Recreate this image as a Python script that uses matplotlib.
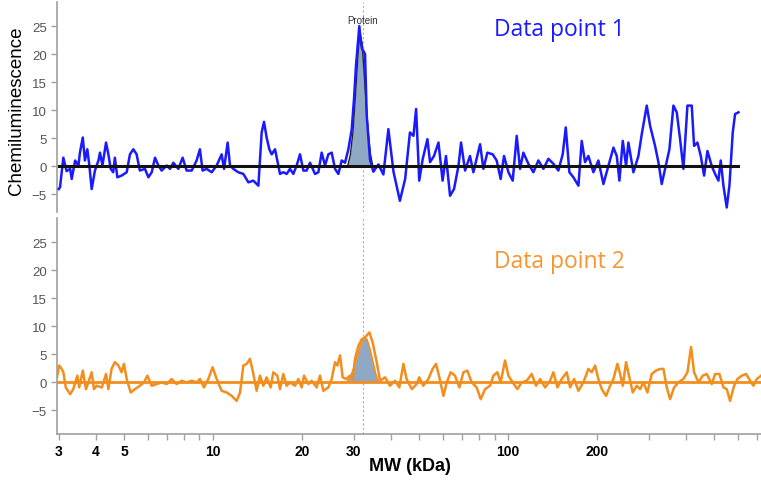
import matplotlib
matplotlib.use("Agg")
import matplotlib.pyplot as plt
from matplotlib.ticker import FixedLocator, FixedFormatter, NullFormatter

plt.rcParams["font.family"] = ["Liberation Sans", "DejaVu Sans"]

# ---- data (MW in kDa, chemiluminescence signal) ----
top_mw = [3.00, 3.03, 3.11, 3.19, 3.28, 3.32, 3.41, 3.50, 3.54, 3.62, 3.68, 3.75, 3.81, 3.88, 3.98,
          4.09, 4.14, 4.22, 4.34, 4.42, 4.50, 4.59, 4.65, 4.74, 4.90, 5.10, 5.23, 5.37, 5.51, 5.65,
          5.88, 6.04, 6.20, 6.36, 6.53, 6.70, 6.97, 7.15, 7.34, 7.63, 7.89, 8.14, 8.47, 8.80, 9.03,
          9.22, 9.52, 9.90, 10.29, 10.70, 10.90, 11.21, 11.42, 11.72, 12.18, 12.67, 13.18, 13.70,
          14.25, 14.43, 14.62, 14.89, 15.20, 15.52, 15.81, 16.23, 16.52, 16.87, 17.31, 17.77, 18.24,
          18.72, 19.21, 19.72, 20.24, 20.77, 21.32, 22.17, 22.76, 23.35, 23.97, 24.60, 25.25, 25.92,
          26.60, 27.30, 28.02, 28.76, 29.52, 30.06, 30.53, 31.00, 31.33, 31.70, 32.00, 32.76, 33.19,
          34.05, 34.95, 36.36, 37.8, 39.3, 40.9, 43.0, 44.8, 46.5, 47.8, 48.8, 50.0, 51.4, 53.3, 54.4,
          56.1, 58.1, 60.0, 61.6, 63.6, 65.6, 67.9, 69.3, 71.5, 74.3, 76.3, 80.4, 82.5, 85.1, 88.7,
          91.5, 94.4, 96.9, 100.3, 103.7, 107.0, 109.8, 112.7, 117.2, 121.9, 126.7, 131.8, 137.0,
          142.5, 148.1, 153.2, 156.9, 161.4, 166.5, 173.2, 177.7, 182.4, 187.2, 194.7, 202.4, 210.5,
          218.8, 227.6, 233.6, 238.5, 244.8, 251.2, 255.8, 266.0, 276.6, 283.9, 295.2, 303.0, 315.0,
          323.3, 331.8, 340.6, 352.3, 363.5, 373.1, 382.9, 393.0, 405.5, 419.4, 427.1, 438.4, 450.0,
          461.8, 474.0, 490.3, 503.2, 516.4, 525.9, 537.0, 551.1, 562.7, 577.5, 588.2, 603.9]
top_signal = [-4.1, -3.8, 1.5, -0.9, -0.5, -2.3, 1.0, 0.1, 2.4, 5.1, 1.0, 3.0, 0.1, -4.1, -0.8,
              1.0, 2.4, 0.1, 4.2, 2.1, -0.5, -1.1, 1.5, -2.0, -1.7, -1.1, 2.1, 3.0, 2.1, -0.8,
              -0.5, -2.0, -1.1, 1.5, 0.1, -0.8, 0.1, -0.5, 0.6, -0.5, 1.5, -0.8, -0.8, 1.0, 3.0,
              -0.8, -0.5, -1.1, 0.1, 2.1, -0.5, 4.2, 0.1, -0.5, -1.1, -1.4, -2.9, -2.6,
              -3.5, 1.0, 6.0, 7.9, 5.1, 3.0, 2.1, 3.0, 1.0, -1.4, -1.1, -1.4, -0.5,
              -1.4, 0.1, 2.1, -0.8, -0.8, 0.6, -1.4, -1.1, 2.4, 0.1, 2.1, 2.4, -0.5,
              -1.4, 1.0, 0.6, 3.0, 6.5, 12.0, 18.0, 22.0, 25.0, 22.0, 21.0, 20.0, 9.0,
              1.2, -1.0, 0.3, -1.5, 6.6, -1.0, -6.2, -2.3, 6.0, 5.4, 10.2, -2.6, 1.3, 4.8, 0.7,
              1.8, 4.2, -2.6, 1.8, -5.3, -4.1, 0.0, 4.2, -0.8, 1.8, -1.1, 3.9, -0.5, 2.4, 2.1,
              1.0, -2.3, 1.8, -1.1, -2.6, 5.4, -0.5, 2.4, 0.4, -1.1, 1.0, -0.5, 1.3,
              0.4, -0.8, 2.1, 6.9, -1.1, -2.0, -3.5, 4.5, 0.7, 1.8, -1.1, 1.0, -3.2,
              0.0, 3.3, 1.8, -2.6, 4.5, 0.0, 4.2, -1.1, 1.8, 5.7, 10.8, 7.2, 3.6,
              0.7, -3.2, -0.5, 3.0, 10.8, 9.6, 4.8, -0.5, 10.8, 10.8, 3.6, 4.2, 1.8,
              -1.7, 2.7, 0.0, -1.4, -2.6, 1.0, -3.5, -7.4, -3.5, 6.0, 9.3, 9.6]

bot_mw = [2.96, 3.01, 3.07, 3.11, 3.17, 3.28, 3.36, 3.47, 3.52, 3.62, 3.71, 3.78, 3.88, 3.95, 4.03,
          4.20, 4.34, 4.42, 4.53, 4.65, 4.78, 4.90, 4.99, 5.10, 5.26, 5.44, 5.65, 5.84, 5.99, 6.20,
          6.44, 6.70, 6.97, 7.24, 7.53, 7.83, 8.14, 8.47, 8.80, 9.03, 9.32, 9.64, 9.97, 10.29, 10.70,
          11.13, 11.57, 12.03, 12.35, 12.67, 13.01, 13.35, 13.63, 14.06, 14.43, 14.81, 15.20, 15.68,
          16.01, 16.52, 16.87, 17.31, 17.77, 18.24, 18.97, 19.46, 19.98, 20.35, 21.05, 21.60, 22.46,
          23.05, 23.66, 24.60, 25.25, 25.92, 26.40, 26.95, 27.51, 28.24, 29.13, 29.74, 30.29, 31.10,
          31.92, 32.76, 33.89, 34.77, 35.88, 36.82, 38.3, 39.8, 41.4, 42.8, 44.2, 45.3, 47.2, 49.0,
          50.0, 51.6, 53.7, 55.5, 57.0, 58.5, 60.4, 62.0, 63.9, 66.1, 68.4, 70.6, 72.8, 75.3, 78.3,
          80.8, 83.6, 86.9, 89.2, 92.0, 94.4, 97.7, 100.3, 103.7, 107.5, 111.3, 115.7, 120.3, 124.4,
          128.4, 133.5, 138.8, 142.5, 147.0, 152.0, 158.1, 162.3, 167.4, 173.2, 180.0, 187.2, 192.1,
          197.2, 202.4, 207.8, 214.9, 221.7, 227.6, 234.8, 239.8, 244.8, 251.2, 257.8, 264.6, 273.1,
          280.3, 287.7, 296.8, 306.9, 317.5, 327.6, 336.3, 345.1, 354.2, 365.4, 378.0, 393.0, 405.5,
          417.2, 427.1, 441.9, 457.0, 471.5, 490.3, 503.2, 520.4, 537.0, 551.1, 565.6, 583.6, 599.2,
          619.8, 641.1, 661.3, 678.7, 696.6, 720.3]
bot_signal = [0.9, 3.0, 2.4, 1.8, -0.9, -2.1, -1.2, 1.2, -0.9, 2.1, -1.2, 0.0, 1.8, -1.2, -0.6,
              -0.9, 1.5, -1.2, 2.4, 3.6, 3.0, 1.8, 3.3, 0.6, -1.8, -1.2, -0.6, 0.0, 1.2, -0.6,
              -0.3, 0.0, -0.3, 0.6, -0.3, 0.3, 0.0, 0.3, 0.0, 0.6, -0.9, 0.6, 2.7, 0.6, -1.5,
              -1.8, -2.4, -3.3, -1.8, 3.0, 3.3, 4.2, 2.1, -1.5, 1.2, -0.6, 0.9, -0.9,
              1.8, 1.2, -1.2, 1.5, -0.6, 0.0, -0.6, 0.6, -0.9, 1.2, -0.3, 0.3, -0.9,
              1.2, -1.5, -0.9, 0.6, 3.6, 3.0, 4.8, 0.9, 0.6, 1.2, 0.6, 4.2, 6.5,
              7.7, 8.0, 8.9, 7.1, 3.6, 0.3, 0.9, -0.6, 0.3, -0.9, 3.3, 0.6, -1.2, -0.3,
              0.9, -0.6, 0.6, 2.4, 3.3, 0.9, -2.4, 0.0, 1.8, 1.2, -0.9, 1.8, 2.1, 0.0, -0.9,
              -3.0, -1.2, -0.6, 1.2, 1.8, 0.0, 3.9, 1.2, 0.0, -1.2, 0.0, 0.3, 1.5, -0.6,
              0.6, -0.9, 0.3, 1.8, -0.9, 0.6, 1.8, -0.9, 0.6, -1.5, 0.0, 2.4, 1.8,
              3.0, 0.6, -1.2, -2.4, -0.6, 0.6, 3.3, 1.5, -0.6, 3.6, 0.9, -1.8, -0.6,
              -1.2, 0.0, -1.8, 1.5, 2.1, 2.4, 2.4, -0.9, -3.0, -0.9, 0.0, 0.6, 1.8,
              6.3, 1.8, 0.0, 1.2, 1.5, -0.3, 1.5, 1.5, -0.9, -1.2, -3.3, -0.6, 0.6,
              1.2, 1.5, 0.3, -0.6, 0.6, 1.2]

# fitted protein peaks
fit1_mw = [28.6, 29.2, 29.8, 30.3, 30.8, 31.2, 31.6, 32.0, 32.5, 33.0, 33.6, 34.2, 34.8]
fit1_signal = [0.0, 2.0, 6.0, 11.5, 17.5, 22.0, 23.5, 22.0, 17.0, 11.5, 6.0, 2.0, 0.0]
fit2_mw = [28.4, 29.2, 30.0, 30.8, 31.6, 32.2, 32.7, 33.3, 34.0, 34.8, 35.6, 36.4]
fit2_signal = [0.0, 1.0, 2.5, 4.5, 6.5, 7.6, 8.0, 7.6, 6.0, 3.8, 1.5, 0.0]

protein_mw = 32.2
y_ticks = [-5, 0, 5, 10, 15, 20, 25]
x_major = [3, 4, 5, 10, 20, 30, 100, 200]
x_major_labels = ["3", "4", "5", "10", "20", "30", "100", "200"]
x_minor = [6, 7, 8, 9, 40, 50, 60, 70, 80, 90, 300, 400, 500, 600, 700]

BLUE = "#1a1aff"
ORANGE = "#f28e1e"
FILL = "#8fa8c3"

fig = plt.figure(figsize=(7.61, 4.85), dpi=100)
ax1 = fig.add_axes([57 / 761, 1 - 213 / 485, 704 / 761, 210 / 485])
ax2 = fig.add_axes([57 / 761, 1 - 435 / 485, 704 / 761, 216 / 485])

for ax in (ax1, ax2):
    ax.set_xscale("log")
    ax.set_xlim(2.96, 720)
    ax.set_yticks(y_ticks)
    ax.spines["top"].set_visible(False)
    ax.spines["right"].set_visible(False)
    ax.spines["left"].set_color("#a0a0a0")
    ax.spines["left"].set_linewidth(1.2)
    ax.tick_params(axis="y", colors="#a0a0a0", labelcolor="#555555", labelsize=9.5,
                   length=4, width=1)
    ax.axvline(protein_mw, color="#b0b0b0", lw=0.8, ls=(0, (2, 2)), zorder=1)

ax1.set_ylim(-8.2, 29.3)
ax2.set_ylim(-9.2, 29.3)

# top panel
ax1.spines["bottom"].set_visible(False)
ax1.tick_params(axis="x", which="both", bottom=False, labelbottom=False)
ax1.fill_between(fit1_mw, 0, fit1_signal, color=FILL, lw=0, zorder=2)
ax1.plot(fit1_mw, fit1_signal, color="#222222", lw=1.0, zorder=2.5)
ax1.plot(top_mw, top_signal, color=BLUE, lw=1.8, zorder=3)
ax1.plot([top_mw[0], top_mw[-1]], [0, 0], color="#111111", lw=2.2, zorder=4)
ax1.text(protein_mw, 26.1, "Protein", ha="center", va="center", fontsize=7, color="#333333")
ax1.text(0.621, 0.87, "Data point 1", transform=ax1.transAxes, fontsize=16.5,
         color=BLUE, family=["Open Sans", "DejaVu Sans"], ha="left", va="center")

# bottom panel
ax2.spines["bottom"].set_color("#a0a0a0")
ax2.spines["bottom"].set_linewidth(1.2)
ax2.fill_between(fit2_mw, 0, fit2_signal, color=FILL, lw=0, zorder=2)
ax2.plot(fit2_mw, fit2_signal, color=ORANGE, lw=1.2, zorder=2.5)
ax2.plot(bot_mw, bot_signal, color=ORANGE, lw=1.8, zorder=3)
ax2.axhline(0, color=ORANGE, lw=2.0, zorder=4)
ax2.xaxis.set_major_locator(FixedLocator(x_major))
ax2.xaxis.set_major_formatter(FixedFormatter(x_major_labels))
ax2.xaxis.set_minor_locator(FixedLocator(x_minor))
ax2.xaxis.set_minor_formatter(NullFormatter())
ax2.tick_params(axis="x", which="both", colors="#a0a0a0", labelcolor="black",
                length=4, width=1)
for lab in ax2.get_xticklabels():
    lab.set_fontweight("bold")
    lab.set_fontsize(10)
ax2.text(0.621, 0.8, "Data point 2", transform=ax2.transAxes, fontsize=16.5,
         color="#f5962e", family=["Open Sans", "DejaVu Sans"], ha="left", va="center")

fig.text(410 / 761, 1 - 467 / 485, "MW (kDa)", ha="center", va="center",
         fontsize=13, fontweight="bold")
fig.text(17 / 761, 1 - 111 / 485, "Chemiluminescence", rotation=90, ha="center",
         va="center", fontsize=13.5)

fig.savefig("out.png", dpi=100)
